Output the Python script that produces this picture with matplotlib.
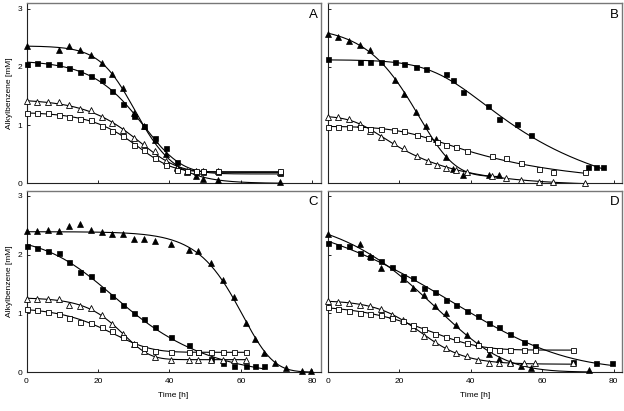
import numpy as np
import matplotlib
matplotlib.use('Agg')
from matplotlib import pyplot as plt

plt.rcParams['font.family'] = ['Liberation Sans', 'DejaVu Sans']

# ---------------- data ----------------
# panel A
A_t = [0, 3, 6, 9, 12, 15, 18, 21, 24, 27, 30, 33, 36, 39, 42, 45, 47.5, 49.5, 53.5, 71]
A_t_tri = [0, 9, 12, 15, 18, 21, 24, 27, 30, 33, 36, 39, 42, 45, 47.5, 49.5, 53.5, 71]
A_tri = [2.35, 2.28, 2.35, 2.28, 2.21, 2.06, 1.87, 1.63, 1.21, 0.98, 0.74, 0.50,
         0.28, 0.20, 0.13, 0.07, 0.05, 0.03]
A_sq = [2.05, 2.06, 2.05, 2.05, 1.98, 1.91, 1.85, 1.77, 1.58, 1.36, 1.15, 0.99,
        0.78, 0.60, 0.37, 0.21, 0.20, 0.19, 0.19, 0.18]
A_otri = [1.41, 1.39, 1.39, 1.39, 1.34, 1.27, 1.25, 1.13, 1.03, 0.92, 0.77, 0.67,
          0.55, 0.38, 0.26, 0.21, 0.21, 0.21, 0.21, 0.20]
A_osq = [1.21, 1.20, 1.20, 1.18, 1.14, 1.10, 1.09, 0.99, 0.90, 0.81, 0.65, 0.58,
         0.44, 0.31, 0.23, 0.21, 0.21, 0.21, 0.21, 0.21]

# panel B
B_t_tri = [0, 3, 6, 9, 12, 19, 21.3, 24.8, 27.6, 30.4, 33.2, 35.2, 38, 45, 48]
B_tri = [2.57, 2.52, 2.45, 2.37, 2.28, 1.78, 1.54, 1.22, 0.98, 0.76, 0.46, 0.25,
         0.15, 0.15, 0.15]
B_t_sq = [0, 9, 12, 15, 19, 21.3, 24.6, 27.6, 33, 35, 38, 44.8, 48, 53, 57, 72.7, 74.9, 77]
B_sq = [2.13, 2.09, 2.09, 2.09, 2.09, 2.04, 2.00, 1.97, 1.87, 1.77, 1.56, 1.33,
        1.11, 1.01, 0.83, 0.28, 0.28, 0.28]
B_t = [0, 3, 6, 9, 12, 15, 18.5, 21.5, 25, 28, 30.5, 33, 36, 39, 46, 50, 54, 59, 63, 72]
B_otri = [1.13, 1.13, 1.11, 1.02, 0.90, 0.79, 0.69, 0.60, 0.47, 0.38, 0.31, 0.27,
          0.22, 0.19, 0.12, 0.09, 0.05, 0.03, 0.02, 0.01]
B_osq = [0.97, 0.97, 0.97, 0.97, 0.94, 0.94, 0.92, 0.90, 0.83, 0.78, 0.71, 0.65,
         0.62, 0.55, 0.47, 0.43, 0.34, 0.25, 0.20, 0.19]

# panel C
C_t = [0, 3, 6, 9, 12, 15, 18, 21, 24, 27, 30, 33, 36, 40.5, 45.5, 48, 51.5, 55,
       58, 61.5, 64, 66.5, 69.5, 72.5, 77, 79.5]
C_tri = [2.40, 2.40, 2.42, 2.40, 2.48, 2.52, 2.42, 2.39, 2.35, 2.35, 2.26, 2.26,
         2.23, 2.19, 2.08, 2.06, 1.86, 1.56, 1.28, 0.84, 0.56, 0.33, 0.15, 0.06,
         0.02, 0.02]
C_sq = [2.14, 2.11, 2.07, 2.03, 1.88, 1.71, 1.64, 1.42, 1.29, 1.15, 1.00, 0.91,
        0.76, 0.60, 0.46, 0.34, 0.23, 0.15, 0.11, 0.10, 0.10, 0.10]
C_otri = [1.25, 1.25, 1.25, 1.24, 1.15, 1.12, 1.09, 0.98, 0.81, 0.65, 0.48, 0.35,
          0.26, 0.21, 0.21, 0.21, 0.21, 0.21, 0.21, 0.21]
C_osq = [1.08, 1.05, 1.03, 0.99, 0.92, 0.85, 0.83, 0.76, 0.70, 0.60, 0.48, 0.41,
         0.36, 0.34, 0.34, 0.34, 0.34, 0.34, 0.34, 0.34]

# panel D
D_t = [0, 3, 6, 9, 12, 15, 18, 21, 24, 27, 30, 33, 36, 39, 42, 45, 48, 51, 55,
       58, 68.5, 75, 79.5]
D_sq = [2.20, 2.15, 2.14, 2.02, 1.96, 1.89, 1.79, 1.64, 1.60, 1.44, 1.36, 1.23,
        1.14, 1.04, 0.95, 0.84, 0.77, 0.64, 0.51, 0.44, 0.17, 0.15, 0.15]
D_t_tri = [0, 9, 12, 15, 21, 24, 27, 30, 33, 36, 39, 42, 45, 48, 51, 54, 57, 73]
D_tri = [2.36, 2.19, 1.98, 1.78, 1.58, 1.44, 1.31, 1.12, 1.01, 0.80, 0.63, 0.49,
         0.30, 0.22, 0.17, 0.11, 0.07, 0.03]
D_otri = [1.21, 1.20, 1.17, 1.15, 1.12, 1.08, 0.98, 0.88, 0.75, 0.62, 0.51, 0.41,
          0.33, 0.27, 0.21, 0.15, 0.15, 0.15, 0.15, 0.15, 0.15]
D_osq = [1.11, 1.08, 1.04, 1.01, 0.99, 0.97, 0.92, 0.87, 0.80, 0.73, 0.64, 0.59,
         0.56, 0.49, 0.46, 0.39, 0.38, 0.38, 0.38, 0.38, 0.38]

panels = {
    'A': [(A_t_tri, A_tri, 'tri'), (A_t, A_sq, 'sq'), (A_t, A_otri, 'otri'), (A_t, A_osq, 'osq')],
    'B': [(B_t_tri, B_tri, 'tri'), (B_t_sq, B_sq, 'sq'), (B_t, B_otri, 'otri'), (B_t, B_osq, 'osq')],
    'C': [(C_t, C_tri, 'tri'), (C_t[:len(C_sq)], C_sq, 'sq'),
          (C_t[:len(C_otri)], C_otri, 'otri'), (C_t[:len(C_osq)], C_osq, 'osq')],
    'D': [(D_t_tri, D_tri, 'tri'), (D_t, D_sq, 'sq'),
          (D_t[:len(D_otri)], D_otri, 'otri'), (D_t[:len(D_osq)], D_osq, 'osq')],
}

styles = {
    'tri':  dict(marker='^', ms=4.2, mfc='black', mec='black', mew=0.5),
    'sq':   dict(marker='s', ms=3.6, mfc='black', mec='black', mew=0.5),
    'otri': dict(marker='^', ms=4.2, mfc='white', mec='black', mew=0.6),
    'osq':  dict(marker='s', ms=3.6, mfc='white', mec='black', mew=0.6),
}


##########################################
def sigmoid_fit(t, y):
    # Richards curve y = b + (a-b)/(1+exp((t-m)/s))**nu, least squares:
    # grid over m, s, nu with the two levels a, b solved linearly
    t = np.asarray(t, float)
    y = np.asarray(y, float)
    mids = np.linspace(-20, 120, 281)
    widths = np.geomspace(0.5, 60, 120)
    M, W = np.meshgrid(mids, widths, indexing='ij')
    arg = np.clip((t[None, None, :] - M[..., None]) / W[..., None], -50, 50)
    base = 1. + np.exp(arg)
    ym = y.mean()
    best = (np.inf, None)
    for nu in [0.2, 0.3, 0.45, 0.7, 1.0, 1.5, 2.2, 3.3, 5.0]:
        F = base**(-nu)
        fm = F.mean(-1)
        cov = ((F - fm[..., None]) * (y - ym)).sum(-1)
        var = ((F - fm[..., None])**2).sum(-1)
        slope = cov / np.maximum(var, 1e-12)
        icpt = ym - slope * fm
        res = ((icpt[..., None] + slope[..., None] * F - y)**2).sum(-1)
        i = np.unravel_index(np.argmin(res), res.shape)
        if res[i] < best[0]:
            best = (res[i], (M[i], W[i], nu, icpt[i], slope[i]))
    m, s, nu, b, k = best[1]
    tt = np.linspace(t[0], t[-1], 300)
    ff = (1. + np.exp(np.clip((tt - m) / s, -50, 50)))**(-nu)
    return tt, b + k * ff


##########################################
fig = plt.figure(figsize=(6.24, 4.11), dpi=100)
W_, H_ = 624., 411.
boxes = {
    'A': (26.5, 3.3, 320.7, 183.3),
    'B': (327.5, 3.3, 622.0, 183.3),
    'C': (26.5, 190.7, 320.7, 372.0),
    'D': (327.5, 190.7, 622.0, 372.0),
}

for name, series in panels.items():
    x0, y0, x1, y1 = boxes[name]
    ax = fig.add_axes([x0 / W_, (H_ - y1) / H_, (x1 - x0) / W_, (y1 - y0) / H_])
    for t, y, kind in series:
        tt, yy = sigmoid_fit(t, y)
        ax.plot(tt, yy, color='black', lw=0.8, zorder=2)
        ax.plot(t, y, ls='none', zorder=3, clip_on=False, **styles[kind])

    ax.set_xlim(0, 82.3)
    ax.set_ylim(0, 3.09)
    ax.set_xticks([0, 20, 40, 60, 80])
    ax.set_yticks([0, 1, 2, 3])
    ax.tick_params(direction='in', length=2.2, width=0.6, labelsize=6,
                   top=False, right=False)
    ax.tick_params(axis='x', pad=4)
    ax.tick_params(axis='y', pad=3)
    for s in ['left', 'bottom']:
        ax.spines[s].set_linewidth(0.8)
        ax.spines[s].set_color('#222222')
    for s in ['top', 'right']:
        ax.spines[s].set_linewidth(1.0)
        ax.spines[s].set_color('#777777')

    if name in ('A', 'C'):
        ax.set_ylabel('Alkylbenzene [mM]', fontsize=6, labelpad=3)
    else:
        ax.set_yticklabels([])
    if name in ('C', 'D'):
        ax.set_xlabel('Time [h]', fontsize=6, labelpad=5)
    else:
        ax.set_xticklabels([])

    ax.text(0.974, 0.935, name, transform=ax.transAxes, ha='center',
            va='center', fontsize=9.5)

fig.savefig('out.png', dpi=100)
